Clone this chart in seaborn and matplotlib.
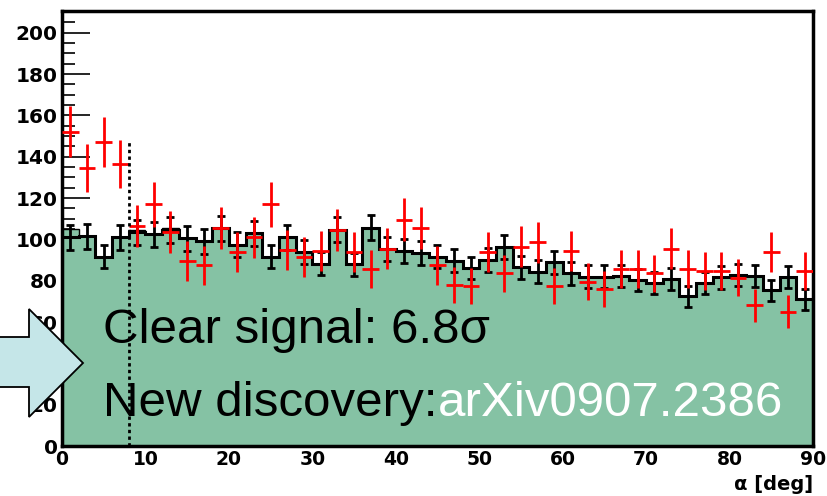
import numpy as np
import pandas as pd
import matplotlib
matplotlib.use("Agg")
import matplotlib.pyplot as plt
import seaborn as sns
from matplotlib.patches import Polygon
from matplotlib.ticker import MultipleLocator

# ---- data (45 bins of 2 deg, alpha 0..90) ----
bin_edges = list(range(0, 92, 2))
bin_centers = [e + 1 for e in bin_edges[:-1]]

signal_counts = [152, 134.5, 147, 136.5, 106.5, 117, 103.5, 89.5, 87.5, 105.5,
                 94, 101, 117, 95, 91.5, 94.5, 104.5, 94, 85.5, 95.5,
                 109.5, 105.5, 87.5, 78, 77.5, 94, 83.5, 96.5, 98.5, 77.5,
                 94.5, 79.5, 76, 85.5, 85.5, 83.5, 95.5, 85.5, 84.5, 84.5,
                 81.5, 68, 94, 65, 84.5]
signal_err = [12.3, 11.6, 12.1, 11.7, 10.3, 10.8, 10.2, 9.5, 9.4, 10.3,
              9.7, 10.0, 10.8, 9.7, 9.6, 9.7, 10.2, 9.7, 9.2, 9.8,
              10.5, 10.3, 9.4, 8.8, 8.8, 9.7, 9.1, 9.8, 9.9, 8.8,
              9.7, 8.9, 8.7, 9.2, 9.2, 9.1, 9.8, 9.2, 9.2, 9.2,
              9.0, 8.2, 9.7, 8.1, 9.2]

bkg_counts = [101, 101.5, 91.5, 101, 103.5, 102.5, 104.5, 100.5, 99, 105.3,
              97.5, 103, 91.6, 101, 94, 88.3, 104.6, 88, 105.7, 95.1,
              94.5, 93.3, 91.5, 89.6, 86.1, 90, 96.5, 86.4, 84.3, 88.8,
              83.5, 82, 82, 82.4, 80.4, 78.7, 80.9, 72.4, 78.7, 81.6,
              82.7, 82.2, 75.3, 81.9, 71]
bkg_fill = [105, 101.5, 91.5, 101, 104.3, 102.5, 105.4, 100.5, 99, 105.4,
            97.5, 103, 91.6, 101, 94, 88.3, 104.6, 88, 105.7, 95.1,
            94.5, 93.3, 91.5, 89.6, 86.1, 90, 96.5, 86.4, 84.3, 88.8,
            83.5, 82, 82, 82.4, 80.4, 78.7, 80.9, 72.4, 78.7, 81.6,
            82.7, 82.2, 75.3, 81.9, 71]
bkg_err = [6.0, 6.0, 5.6, 6.0, 6.1, 6.0, 6.1, 6.0, 5.9, 6.1,
           5.9, 6.0, 5.6, 6.0, 5.8, 5.6, 6.1, 5.6, 6.1, 5.8,
           5.8, 5.7, 5.6, 5.6, 5.5, 5.6, 5.8, 5.5, 5.5, 5.6,
           5.4, 5.4, 5.4, 5.4, 5.3, 5.3, 5.3, 5.0, 5.3, 5.4,
           5.4, 5.4, 5.1, 5.4, 5.0]

y_ticks = [0, 20, 40, 60, 80, 100, 120, 140, 160, 180, 200]
x_ticks = [0, 10, 20, 30, 40, 50, 60, 70, 80, 90]
cut_value = 8

df = pd.DataFrame({"alpha": bin_centers, "bkg": bkg_fill})

sns.set_style("white")
plt.rcParams["font.family"] = ["Liberation Sans", "DejaVu Sans"]
plt.rcParams["text.color"] = "black"
plt.rcParams["xtick.labelcolor"] = "black"
plt.rcParams["ytick.labelcolor"] = "black"
plt.rcParams["xtick.color"] = "black"
plt.rcParams["ytick.color"] = "black"

W, H = 828, 496
fig = plt.figure(figsize=(W / 100, H / 100), dpi=100)
ax = fig.add_axes([62 / W, (H - 446) / H, 751 / W, 435 / H])

green = "#85c2a4"
sns.histplot(data=df, x="alpha", weights="bkg", bins=bin_edges, element="step",
             fill=True, color=green, alpha=1.0, linewidth=0, ax=ax, zorder=1)
ax.stairs(bkg_fill, bin_edges, color="black", linewidth=1.0, zorder=2)
ax.stairs(bkg_counts, bin_edges, color="black", linewidth=2.2, zorder=3)
ax.errorbar(bin_centers, bkg_counts, yerr=bkg_err, fmt="none", ecolor="black",
            elinewidth=2.0, capsize=3, capthick=2.0, zorder=4)
ax.errorbar(bin_centers, signal_counts, yerr=signal_err, xerr=1, fmt="none",
            ecolor="#ff0000", elinewidth=2.0, capsize=0, zorder=5)

ax.plot([cut_value, cut_value], [0, 148], linestyle=(0, (1.2, 1.2)), color="black",
        linewidth=2.0, zorder=6)

ax.set_xlim(0, 90)
ax.set_ylim(0, 210.5)
ax.set_xticks(x_ticks)
ax.set_yticks(y_ticks)
ax.xaxis.set_minor_locator(MultipleLocator(2))
ax.yaxis.set_minor_locator(MultipleLocator(5))
ax.tick_params(axis="both", which="major", direction="in", length=14, width=1.2,
               color="black", labelcolor="black", top=False, right=False)
ax.tick_params(axis="y", which="major", length=20)
ax.tick_params(axis="both", which="minor", direction="in", length=7, width=1.2,
               color="black", top=False, right=False)
ax.tick_params(axis="y", which="minor", length=9)
ax.tick_params(axis="y", which="both", left=True)
ax.tick_params(axis="x", which="both", bottom=True)
for lbl in ax.get_xticklabels():
    lbl.set_fontweight("bold")
    lbl.set_fontsize(13.5)
    lbl.set_family("DejaVu Sans")
    lbl.set_color("black")
for lbl in ax.get_yticklabels():
    lbl.set_fontweight("bold")
    lbl.set_fontsize(14.5)
    lbl.set_family("DejaVu Sans")
    lbl.set_color("black")
ax.tick_params(axis="x", pad=3)
ax.tick_params(axis="y", pad=3)
for s in ax.spines.values():
    s.set_visible(True)
    s.set_color("black")
    s.set_linewidth(2.5)
ax.set_xlabel("")
ax.set_ylabel("")

fig.text(813 / W, 1 - 484 / H, "α [deg]", ha="right", va="center",
         fontsize=14, fontweight="bold", family="DejaVu Sans", color="black")

# arrow (figure pixel coordinates)
arrow_px = [(-5, 337), (29, 337), (29, 309), (83, 363), (29, 417), (29, 387), (-5, 387)]
arrow = Polygon([(x / W, 1 - y / H) for x, y in arrow_px], closed=True,
                facecolor="#c5e6e8", edgecolor="black", linewidth=1.3,
                transform=fig.transFigure, zorder=10)
fig.patches.append(arrow)

fig.text(103 / W, 1 - 343 / H, "Clear signal: 6.8σ", ha="left", va="baseline",
         fontsize=35.5, color="black", zorder=11)
t1 = fig.text(103 / W, 1 - 416 / H, "New discovery:", ha="left", va="baseline",
              fontsize=35.5, color="black", zorder=11)
fig.canvas.draw()
bb = t1.get_window_extent()
fig.text(bb.x1 / W, 1 - 416 / H, "arXiv0907.2386", ha="left", va="baseline",
         fontsize=35.5, color="white", zorder=11)

fig.savefig("out.png", dpi=100)
